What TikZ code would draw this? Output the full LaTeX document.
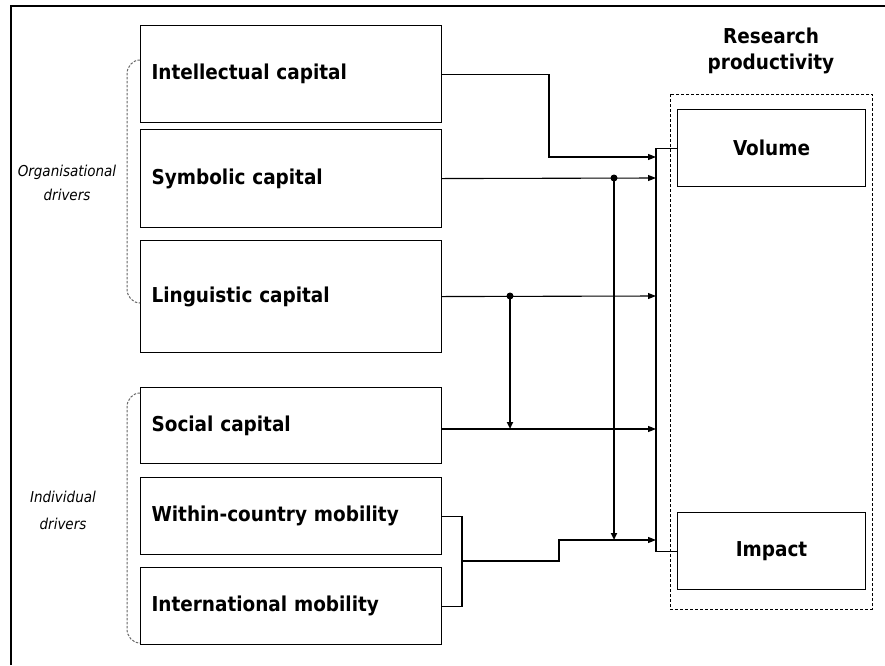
\documentclass[tikz,border=0pt]{standalone}
\usepackage{fontspec}
\setmainfont{DejaVu Sans Condensed}
\usetikzlibrary{arrows.meta}

\begin{document}
\begin{tikzpicture}[x=1pt,y=-1pt,
  lbl/.style={font=\bfseries\fontsize{20.5}{26}\selectfont},
  srcbox/.style={draw, line width=1.1pt, anchor=north west, inner xsep=11pt, inner ysep=0pt,
    text width=279pt, minimum width=301pt, align=left, lbl},
  outbox/.style={draw, line width=1.1pt, anchor=north west, inner sep=0pt,
    minimum width=188pt, minimum height=77pt, align=center, lbl},
  conn/.style={line width=1.1pt},
  arr/.style={conn, -{Triangle[length=8pt,width=6pt]}},
  thickarr/.style={line width=2.2pt, -{Triangle[length=7pt,width=6pt]}},
  dot/.style={circle, fill, inner sep=0pt, minimum size=7pt},
  grp/.style={black!60, line width=1pt, dash pattern=on 2.5pt off 1.5pt},
  side/.style={font=\itshape\fontsize{15}{24}\selectfont, align=center}
]
\useasboundingbox (0,0) rectangle (885,665);

% page frame
\draw[line width=2.3pt] (11,665) -- (11,6) -- (885,6);

% drivers
\node[srcbox, minimum height=97pt]  (int) at (140,25)  {Intellectual capital};
\node[srcbox, minimum height=98pt]  (sym) at (140,129) {Symbolic capital};
\node[srcbox, minimum height=112pt] (lin) at (140,240) {Linguistic capital};
\node[srcbox, minimum height=76pt]  (soc) at (140,387) {Social capital};
\node[srcbox, minimum height=77pt]  (wcm) at (140,477) {Within-country mobility};
\node[srcbox, minimum height=77pt]  (inm) at (140,567) {International mobility};

% group labels and brackets
\node[side] (org) at (67,183) {Organisational\\drivers};
\node[side, font=\itshape\fontsize{15}{27}\selectfont] (ind) at (63,510) {Individual\\drivers};
\draw[grp] (140,60) to[out=180,in=90] (127,74) -- (127,289) to[out=-90,in=180] (140,303);
\draw[grp] (140,393) to[out=180,in=90] (127,407) -- (127,629) to[out=-90,in=180] (140,643);

% outcomes
\node[lbl, align=center] (rp) at (771,51) {Research\\productivity};
\draw[line width=0.9pt, dash pattern=on 3pt off 2pt] (670,94) rectangle (872,609);
\node[outbox] (vol) at (677,109) {Volume};
\node[outbox] (imp) at (677,512) {Impact};

% bus joining the outcomes
\coordinate (busT) at ([xshift=-21pt]vol.west);
\coordinate (busB) at ([xshift=-21pt]imp.west);
\draw[conn] (vol.west) -- (busT) -- (busB) -- (imp.west);

% arrow targets on the bus
\coordinate (iIn) at (656,157);
\coordinate (iStep) at (549,157);
\coordinate (sIn) at (656,178);
\coordinate (lIn) at (656,296);
\coordinate (socIn) at (656,429);
\coordinate (mIn) at (656,540);
\coordinate (mStep) at (559,540);
\coordinate (brk) at (462,561);

\draw[arr] (int.east) -| (iStep) -- (iIn);
\draw[arr] (sym.east) -- (sIn);
\draw[arr] (lin.east) -- (lIn);
\draw[arr] (soc.east |- socIn) -- (socIn);
\draw[conn] (wcm.east) -| (brk) |- (inm.east);
\draw[arr] (brk) -| (mStep) -- (mIn);

% moderating links
\node[dot] (d1) at (614,178) {};
\node[dot] (d2) at (510,296) {};
\draw[thickarr] (d1.center) -- (d1 |- mIn);
\draw[thickarr] (d2.center) -- (d2 |- socIn);
\end{tikzpicture}
\end{document}
